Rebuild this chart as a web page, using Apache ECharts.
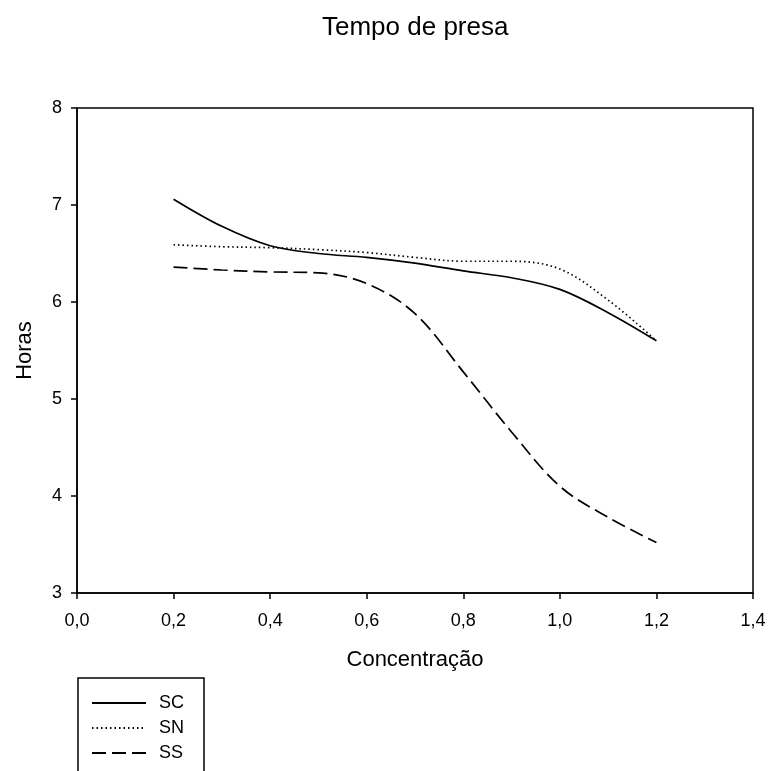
<!DOCTYPE html>
<html><head><meta charset="utf-8">
<script src="https://cdn.jsdelivr.net/npm/echarts@6/dist/echarts.min.js"></script>
<style>html,body{margin:0;padding:0;background:#fff}#c{width:770px;height:771px}</style>
</head><body><div id="c"></div>
<script>
const xValues = [0.2, 0.3, 0.4, 0.5, 0.6, 0.7, 0.8, 0.9, 1.0, 1.1, 1.2];
const SC = [7.06, 6.78, 6.58, 6.50, 6.46, 6.40, 6.32, 6.25, 6.13, 5.89, 5.60];
const SN = [6.59, 6.57, 6.56, 6.54, 6.51, 6.46, 6.42, 6.42, 6.34, 6.02, 5.60];
const SS = [6.36, 6.33, 6.31, 6.30, 6.19, 5.88, 5.28, 4.66, 4.10, 3.78, 3.52];
const xTicks = {min: 0, max: 1.4, interval: 0.2};
const yTicks = {min: 3, max: 8, interval: 1};

const font = 'Liberation Sans, Arial, sans-serif';
function pairs(ys){ return xValues.map((x,i)=>[x, ys[i]]); }
function mk(name, ys, type){
  return {name, type:'line', data:pairs(ys), smooth:0.35, symbol:'none',
    lineStyle:{color:'#000', width:1.7, type}, itemStyle:{color:'#000'}};
}
const chart = echarts.init(document.getElementById('c'), null, {renderer:'canvas'});
chart.setOption({
  animation:false,
  backgroundColor:'#fff',
  title:{text:'Tempo de presa', left:317, top:10, textStyle:{fontFamily:font, fontSize:26, fontWeight:'normal', color:'#000'}},
  grid:{left:77, right:17, top:108, bottom:178, show:true, borderColor:'#000', borderWidth:1.5},
  xAxis:{type:'value', min:xTicks.min, max:xTicks.max, interval:xTicks.interval,
    name:'Concentração', nameLocation:'middle', nameGap:56,
    nameTextStyle:{fontFamily:font, fontSize:22, color:'#000'},
    axisLine:{show:true, lineStyle:{color:'#000', width:1.5}},
    axisTick:{show:true, inside:false, length:6, lineStyle:{color:'#000', width:1.5}},
    axisLabel:{fontFamily:font, fontSize:18, color:'#000', margin:19,
      formatter:v=>v.toFixed(1).replace('.',',')},
    splitLine:{show:false}},
  yAxis:{type:'value', min:yTicks.min, max:yTicks.max, interval:yTicks.interval,
    name:'Horas', nameLocation:'middle', nameGap:41,
    nameTextStyle:{fontFamily:font, fontSize:22, color:'#000'},
    axisLine:{show:true, lineStyle:{color:'#000', width:1.5}},
    axisTick:{show:true, inside:false, length:6, lineStyle:{color:'#000', width:1.5}},
    axisLabel:{fontFamily:font, fontSize:18, color:'#000', margin:15},
    splitLine:{show:false}},
  graphic:[{type:'rect', shape:{x:78, y:678, width:126, height:110},
    style:{fill:'none', stroke:'#000', lineWidth:1.5}, z:10}],
  legend:{orient:'vertical', left:91, top:694, itemWidth:54, itemHeight:14, itemGap:7,
    padding:0, itemStyle:{opacity:0},
    textStyle:{fontFamily:font, fontSize:18, color:'#000', padding:[0,0,0,8]},
    data:['SC','SN','SS']},
  series:[mk('SC', SC, 'solid'), mk('SN', SN, [1.5,3]), mk('SS', SS, [14,6])]
});
</script></body></html>
